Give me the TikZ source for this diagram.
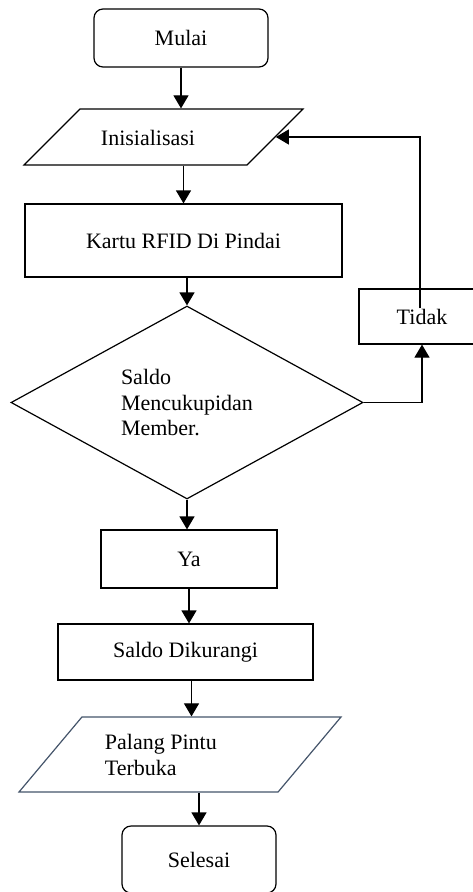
\documentclass[tikz,border=0pt]{standalone}
\usepackage{fontspec}
\setmainfont{Liberation Serif}
\usetikzlibrary{shapes.geometric,arrows.meta}
\definecolor{garisbiru}{HTML}{44546A}
\tikzset{
  terminal/.style={rectangle,draw,rounded corners=9pt,inner sep=0pt},
  box/.style={rectangle,draw,inner sep=0pt},
  io/.style={trapezium,draw,trapezium stretches body=true,inner sep=2pt},
  decision/.style={diamond,draw,inner sep=0pt},
  arrow/.style={-{Triangle[width=15pt,length=13pt]}}
}
\begin{document}
\begin{tikzpicture}[x=1pt,y=-1pt,line width=1.2pt,font=\fontsize{22}{25.5}\selectfont]
\useasboundingbox (0,0) rectangle (473,892);
\draw (181,38)node[terminal,minimum width=174pt,minimum height=58pt] (mulai) {Mulai};
\draw (163.5,137)node[io,trapezium left angle=45,trapezium right angle=135,minimum width=279pt] (ini) {\rule{0pt}{52pt}};
\draw (148,138)node (initext) {Inisialisasi};
\draw (183.5,240.5)node[box,minimum width=317pt,minimum height=73pt] (kartu) {Kartu RFID Di Pindai};
\draw (187,402.5)node[decision,minimum width=352pt,minimum height=193pt] (cek) {};
\draw (187,403)node[align=left] (cektext) {Saldo\\Mencukupidan\\Member.};
\draw (422,316.5)node[box,minimum width=126pt,minimum height=55pt] (tidak) {Tidak};
\draw (189,559)node[box,minimum width=176pt,minimum height=58pt] (ya) {Ya};
\draw (185.5,652)node[box,minimum width=255pt,minimum height=56pt] (kurang) {Saldo Dikurangi};
\draw (180,754.5)node[io,draw=garisbiru,trapezium left angle=50,trapezium right angle=130,minimum width=322pt] (palang) {\rule{0pt}{71pt}};
\draw (101,755)node[anchor=west,align=left] (palangtext) {Palang Pintu\\Terbuka};
\draw (199,859.5)node[terminal,minimum width=154pt,minimum height=67pt] (selesai) {Selesai};
% alur
\draw[arrow] (mulai.south) -- (mulai.south |- ini.north);
\draw[arrow] (kartu.north |- ini.south) -- (kartu.north);
\draw[arrow] (cek.north |- kartu.south) -- (cek.north);
\draw[arrow] (cek.south) -- (cek.south |- ya.north);
\draw[arrow] (ya.south) -- (ya.south |- kurang.north);
\draw[arrow] ([xshift=6pt]kurang.south) -- ([xshift=6pt]kurang.south |- palang.north);
\draw[arrow] (selesai.north |- palang.south) -- (selesai.north);
\draw[arrow] (cek.east) -| (tidak.south);
\draw[arrow] ([xshift=-2pt,yshift=-20pt]tidak.north) |- (ini.east);
\end{tikzpicture}
\end{document}
